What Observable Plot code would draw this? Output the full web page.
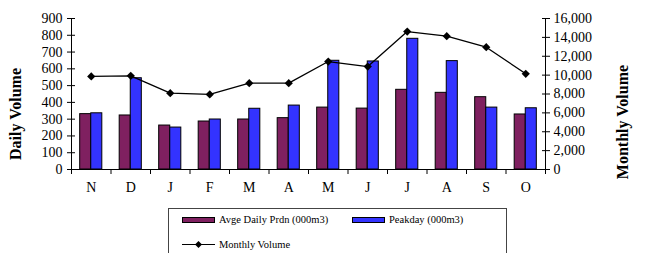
<!DOCTYPE html>
<html><head><meta charset="utf-8">
<script src="https://cdn.jsdelivr.net/npm/d3@7"></script>
<script src="https://cdn.jsdelivr.net/npm/@observablehq/plot@0.6"></script>
<style>
body{margin:0;background:#fff;}
#wrap{position:relative;width:649px;height:253px;overflow:hidden;font-family:"Liberation Serif","Times New Roman",serif;}
#legend{position:absolute;left:168px;top:208px;width:339px;height:60px;border:1px solid #444;box-sizing:border-box;font-size:10.5px;color:#000;}
.item{position:absolute;display:flex;align-items:center;white-space:nowrap;}
.sw{display:inline-block;width:31px;height:4px;border:1px solid #000;margin-right:4px;}
</style></head>
<body><div id="wrap"><div id="chart"></div>
<div id="legend">
 <div class="item" style="left:13px;top:5px"><span class="sw" style="background:#7f2060"></span>Avge Daily Prdn (000m3)</div>
 <div class="item" style="left:183px;top:5px"><span class="sw" style="background:#3333ff"></span>Peakday (000m3)</div>
 <div class="item" style="left:13px;top:30px"><svg width="35" height="9" style="margin-right:2px"><line x1="0" y1="4.5" x2="33" y2="4.5" stroke="#000" stroke-width="1.2"/><path d="M16.5,1L20,4.5L16.5,8L13,4.5Z" fill="#000"/></svg>Monthly Volume</div>
</div></div>
<script>
const months = ["N","D","J","F","M","A","M","J","J","A","S","O"];
const avgDaily = [330,322,262,286,298,306,369,363,475,457,431,328];
const peakday = [335,544,250,298,362,381,648,644,779,646,369,365];
const monthlyVolume = [9860,9930,8090,7950,9150,9150,11440,10910,14620,14130,12960,10140];
const leftTicks = [0,100,200,300,400,500,600,700,800,900];
const rightTicks = [0,2000,4000,6000,8000,10000,12000,14000,16000];

const leftMax = 900, rightMax = 16000;
const toLeft = v => v * leftMax / rightMax;
const idx = months.map((m,i)=>i);
const font = "Liberation Serif, Times New Roman, serif";
const diamond = d3.symbolDiamond2 || "diamond";

const chart = Plot.plot({
  width: 649, height: 200,
  marginLeft: 71, marginRight: 104, marginTop: 18, marginBottom: 31,
  style: {fontFamily: font, fontSize: "14px", color: "#000", background: "#fff"},
  x: {type: "linear", domain: [0, 12], axis: null},
  y: {domain: [0, leftMax], axis: null},
  marks: [
    Plot.rectY(idx, {x1: i => i + 0.22, x2: i => i + 0.5, y: i => avgDaily[i], fill: "#7f2060", stroke: "#000", strokeWidth: 1}),
    Plot.rectY(idx, {x1: i => i + 0.5, x2: i => i + 0.78, y: i => peakday[i], fill: "#3333ff", stroke: "#000", strokeWidth: 1}),
    Plot.line(idx, {x: i => i + 0.5, y: i => toLeft(monthlyVolume[i]), stroke: "#000", strokeWidth: 1.3}),
    Plot.dot(idx, {x: i => i + 0.5, y: i => toLeft(monthlyVolume[i]), symbol: diamond, r: 3.7, fill: "#000", stroke: "none"}),
    Plot.ruleX([0, 12], {stroke: "#000"}),
    Plot.ruleY([0], {stroke: "#000"}),
    Plot.axisX(d3.range(13), {tickSize: 5, tickFormat: () => "", stroke: "#000"}),
    Plot.axisX(idx.map(i => i + 0.5), {tickSize: 0, tickPadding: 13, tickFormat: d => months[Math.floor(d)], fontSize: 14}),
    Plot.axisY(leftTicks, {anchor: "left", tickSize: 8, dx: 4, tickPadding: 5, stroke: "#000", fontSize: 14}),
    Plot.axisY(rightTicks.map(toLeft), {anchor: "right", tickSize: 8, dx: -4, tickPadding: 4, stroke: "#000", fontSize: 14,
      tickFormat: d => d3.format(",")(Math.round(d * rightMax / leftMax))}),
    Plot.text(["Daily Volume"], {frameAnchor: "left", rotate: -90, textAnchor: "middle", dx: -56, dy: 20, fontWeight: "bold", fontSize: 16}),
    Plot.text(["Monthly Volume"], {frameAnchor: "right", rotate: -90, textAnchor: "middle", dx: 77, dy: 28, fontWeight: "bold", fontSize: 16})
  ]
});
document.getElementById("chart").appendChild(chart);
</script></body></html>
